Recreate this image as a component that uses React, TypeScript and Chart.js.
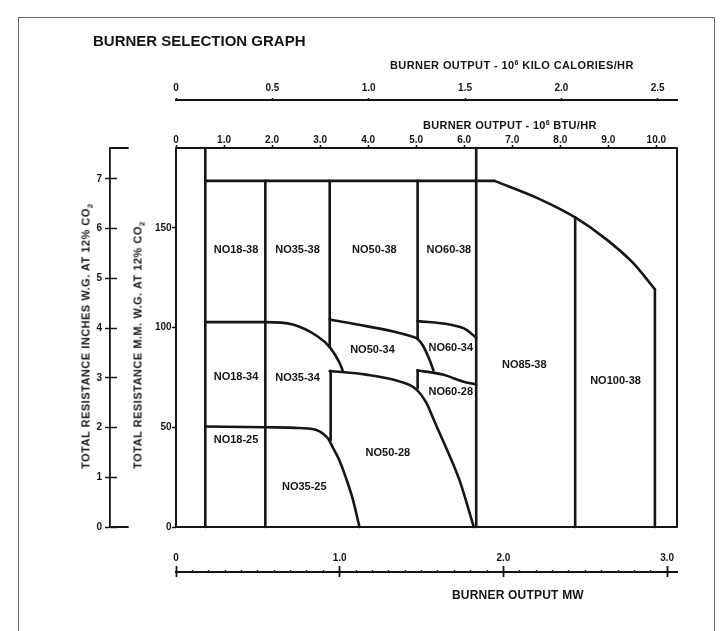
import React, { useEffect, useRef } from 'react';
import { Chart, registerables } from 'chart.js';

Chart.register(...registerables);

const FONT = '"Liberation Sans", Arial, Helvetica, sans-serif';
const INK = '#151515';

// ---- axis ranges ----
const btuRange = [0, 10.43];
const mmRange = [0, 190];
const kcalRange = [0, 2.6];
const mwRange = [0, 3.06];
const inchRange = [0, 7.62];

// ---- tick values and labels ----
const btuTicks = [0, 1, 2, 3, 4, 5, 6, 7, 8, 9, 10];
const btuLabels = ['0', '1.0', '2.0', '3.0', '4.0', '5.0', '6.0', '7.0', '8.0', '9.0', '10.0'];
const kcalTicks = [0, 0.5, 1, 1.5, 2, 2.5];
const kcalLabels = ['0', '0.5', '1.0', '1.5', '2.0', '2.5'];
const mmTicks = [0, 50, 100, 150];
const mmLabels = ['0', '50', '100', '150'];
const inchTicks = [0, 1, 2, 3, 4, 5, 6, 7];
const inchLabels = ['0', '1', '2', '3', '4', '5', '6', '7'];
const mwMajorTicks = [0, 1, 2, 3];
const mwMajorLabels = ['0', '1.0', '2.0', '3.0'];
const mwMinorTicks = [0, 0.1, 0.2, 0.3, 0.4, 0.5, 0.6, 0.7, 0.8, 0.9, 1, 1.1, 1.2, 1.3, 1.4, 1.5, 1.6, 1.7, 1.8, 1.9, 2, 2.1, 2.2, 2.3, 2.4, 2.5, 2.6, 2.7, 2.8, 2.9, 3];

// ---- where the secondary axes cross (in units of the other axis) ----
const kcalAxisAtMm = 214.1;
const mwAxisAtMm = -22.56;
const inchAxisAtBtu = -1.374;
const inchLabelsAtBtu = -1.54;
const mmLabelsAtBtu = -0.09;

// ---- boundary lines (x: 10^6 BTU/hr, y: mm W.G.) ----
const frameX = [0, 10.43, 10.43, 0, 0];
const frameY = [0, 0, 190, 190, 0];
const div18X = [0.61, 0.61];
const div18Y = [0, 190];
const topLineX = [0.61, 6.63];
const topLineY = [173.5, 173.5];
const envelopeX = [6.63, 7.57, 8.31, 8.96, 9.51, 9.97];
const envelopeY = [173.5, 164.4, 155.2, 144.2, 132.5, 119.2];
const div100X = [9.97, 9.97];
const div100Y = [119.2, 0];
const div85X = [8.31, 8.31];
const div85Y = [155.2, 0];
const div60X = [6.25, 6.25];
const div60Y = [0, 190];
const div35X = [1.86, 1.86];
const div35Y = [0, 173.5];
const div50UpperX = [3.2, 3.2];
const div50UpperY = [173.5, 90.2];
const div50LowerX = [3.22, 3.22];
const div50LowerY = [78.2, 43.5];
const div60UpperX = [5.03, 5.03];
const div60UpperY = [173.5, 94.3];
const div60LowerX = [5.03, 5.03];
const div60LowerY = [78.5, 69.5];
const curve34X = [0.61, 1.86, 2.43, 2.95, 3.2, 3.41, 3.47];
const curve34Y = [102.7, 102.7, 101.5, 95.5, 90.2, 82.1, 78.4];
const curve50_28X = [3.2, 3.96, 4.65, 5.0, 5.21, 5.38, 5.55, 5.9, 6.2];
const curve50_28Y = [78.2, 76.4, 73.0, 69.0, 62.3, 53, 43.7, 23.6, 0];
const curve50_34X = [3.2, 3.96, 4.65, 4.88, 5.03, 5.14, 5.27, 5.36];
const curve50_34Y = [104, 100.7, 97.3, 95.7, 94.3, 91.0, 84.3, 78.5];
const curve60_34X = [5.03, 5.69, 6.04, 6.25];
const curve60_34Y = [103.2, 101.5, 99, 94.8];
const curve60_28X = [5.03, 5.55, 5.97, 6.25];
const curve60_28Y = [78.5, 76.4, 73, 71.4];
const curve25X = [0.61, 1.86, 2.57, 2.91, 3.06, 3.17, 3.27, 3.4, 3.54, 3.68, 3.82];
const curve25Y = [50.4, 50, 49.6, 48.7, 46.8, 44.2, 39.6, 33.5, 24.5, 14, 0];

// inch-axis end serifs (x in BTU units, y in inches)
const serifX = [-1.374, -0.999];
const serifBottomY = [0, 0];
const serifTopY = [7.62, 7.62];

// ---- region names ----
const regionNames = ['NO18-38', 'NO35-38', 'NO50-38', 'NO60-38', 'NO18-34', 'NO35-34', 'NO50-34', 'NO60-34', 'NO60-28', 'NO85-38', 'NO100-38', 'NO18-25', 'NO35-25', 'NO50-28'];
const regionBtu = [1.25, 2.53, 4.13, 5.68, 1.25, 2.53, 4.09, 5.72, 5.72, 7.25, 9.15, 1.25, 2.67, 4.41];
const regionMm = [139, 139, 139, 139, 75.2, 74.7, 88.9, 89.8, 67.7, 81.4, 73, 43.7, 20.3, 37];

const line = (xs: number[], ys: number[], width = 2.6, smooth = false, yAxisID = 'y') => ({
  data: xs.map((x, i) => ({ x, y: ys[i] })),
  showLine: true,
  borderColor: INK,
  backgroundColor: INK,
  borderWidth: width,
  pointRadius: 0,
  pointHoverRadius: 0,
  tension: smooth ? 0.4 : 0,
  cubicInterpolationMode: smooth ? 'monotone' : 'default',
  clip: false,
  fill: false,
  xAxisID: 'x',
  yAxisID,
  borderCapStyle: 'round',
  borderJoinStyle: 'round',
});

const tickFont = { family: FONT, size: 10, weight: 'bold' as const };

const setTicks = (vals: number[]) => (s: any) => {
  s.ticks = vals.map((v) => ({ value: v }));
};

const baseTicks = { autoSkip: false, maxRotation: 0, minRotation: 0, font: tickFont, color: INK };

const regionLabelPlugin = {
  id: 'regionLabels',
  afterDatasetsDraw(chart: any) {
    const { ctx } = chart;
    const xs = chart.scales.x;
    const ys = chart.scales.y;
    ctx.save();
    ctx.font = `bold 11px ${FONT}`;
    ctx.fillStyle = INK;
    ctx.textAlign = 'center';
    ctx.textBaseline = 'middle';
    regionNames.forEach((name, i) => {
      ctx.fillText(name, xs.getPixelForValue(regionBtu[i]), ys.getPixelForValue(regionMm[i]));
    });
    ctx.restore();
  },
};

export default function App() {
  const ref = useRef<HTMLCanvasElement>(null);

  useEffect(() => {
    const datasets: any[] = [
      line(frameX, frameY, 2),
      line(div18X, div18Y),
      line(topLineX, topLineY),
      line(envelopeX, envelopeY, 2.6, true),
      line(div100X, div100Y),
      line(div85X, div85Y),
      line(div60X, div60Y),
      line(div35X, div35Y),
      line(div50UpperX, div50UpperY),
      line(div50LowerX, div50LowerY),
      line(div60UpperX, div60UpperY),
      line(div60LowerX, div60LowerY),
      line(curve34X, curve34Y, 2.6, true),
      line(curve50_28X, curve50_28Y, 2.6, true),
      line(curve50_34X, curve50_34Y, 2.6, true),
      line(curve60_34X, curve60_34Y, 2.6, true),
      line(curve60_28X, curve60_28Y, 2.6, true),
      line(curve25X, curve25Y, 2.6, true),
      line(serifX, serifBottomY, 1.8, false, 'yi'),
      line(serifX, serifTopY, 1.8, false, 'yi'),
    ];

    const chart = new Chart(ref.current as HTMLCanvasElement, {
      type: 'scatter',
      data: { datasets },
      plugins: [regionLabelPlugin],
      options: {
        responsive: false,
        animation: false,
        devicePixelRatio: 1,
        events: [],
        layout: { padding: { left: 176, right: 46, top: 148, bottom: 104 } },
        plugins: { legend: { display: false }, tooltip: { enabled: false }, title: { display: false } },
        scales: {
          x: {
            type: 'linear', axis: 'x', position: { y: mmRange[1] }, min: btuRange[0], max: btuRange[1],
            afterBuildTicks: setTicks(btuTicks),
            border: { display: false },
            grid: { display: true, drawOnChartArea: false, drawTicks: true, tickLength: -3, tickColor: INK, tickWidth: 1.5 },
            ticks: { ...baseTicks, padding: -11, callback: (_v: any, i: number) => btuLabels[i] },
          },
          y: {
            type: 'linear', axis: 'y', position: { x: btuRange[0] }, min: mmRange[0], max: mmRange[1],
            afterBuildTicks: setTicks(mmTicks),
            border: { display: false },
            grid: { display: true, drawOnChartArea: false, drawTicks: true, tickLength: 4, tickColor: INK, tickWidth: 1.5 },
            ticks: { ...baseTicks, display: false },
          },
          yl: {
            type: 'linear', axis: 'y', position: { x: mmLabelsAtBtu }, min: mmRange[0], max: mmRange[1],
            afterBuildTicks: setTicks(mmTicks),
            border: { display: false },
            grid: { display: false },
            ticks: { ...baseTicks, callback: (_v: any, i: number) => mmLabels[i] },
          },
          xk: {
            type: 'linear', axis: 'x', position: { y: kcalAxisAtMm }, min: kcalRange[0], max: kcalRange[1],
            afterBuildTicks: setTicks(kcalTicks),
            border: { display: true, color: INK, width: 2 },
            grid: { display: true, drawOnChartArea: false, drawTicks: true, tickLength: -3, tickColor: INK, tickWidth: 1.5 },
            ticks: { ...baseTicks, padding: -15, callback: (_v: any, i: number) => kcalLabels[i] },
          },
          xm: {
            type: 'linear', axis: 'x', position: { y: mwAxisAtMm }, min: mwRange[0], max: mwRange[1],
            afterBuildTicks: setTicks(mwMinorTicks),
            border: { display: true, color: INK, width: 2 },
            grid: { display: true, drawOnChartArea: false, drawTicks: true, tickLength: -3, tickColor: INK, tickWidth: 1.3 },
            ticks: {
              ...baseTicks, padding: -17,
              callback: (v: any) => {
                const k = mwMajorTicks.indexOf(Number(v));
                return k >= 0 ? mwMajorLabels[k] : '';
              },
            },
          },
          xm2: {
            type: 'linear', axis: 'x', position: { y: mwAxisAtMm }, min: mwRange[0], max: mwRange[1],
            afterBuildTicks: setTicks(mwMajorTicks),
            border: { display: false },
            grid: { display: true, drawOnChartArea: false, drawTicks: true, tickLength: 5, tickColor: INK, tickWidth: 1.8 },
            ticks: { ...baseTicks, display: false },
          },
          xm3: {
            type: 'linear', axis: 'x', position: { y: mwAxisAtMm }, min: mwRange[0], max: mwRange[1],
            afterBuildTicks: setTicks(mwMajorTicks),
            border: { display: false },
            grid: { display: true, drawOnChartArea: false, drawTicks: true, tickLength: -6, tickColor: INK, tickWidth: 1.8 },
            ticks: { ...baseTicks, display: false },
          },
          yi: {
            type: 'linear', axis: 'y', position: { x: inchAxisAtBtu }, min: inchRange[0], max: inchRange[1],
            afterBuildTicks: setTicks(inchTicks),
            border: { display: true, color: INK, width: 1.8 },
            grid: { display: true, drawOnChartArea: false, drawTicks: true, tickLength: 4, tickColor: INK, tickWidth: 1.5 },
            ticks: { ...baseTicks, display: false },
          },
          yi2: {
            type: 'linear', axis: 'y', position: { x: inchAxisAtBtu }, min: inchRange[0], max: inchRange[1],
            afterBuildTicks: setTicks(inchTicks),
            border: { display: false },
            grid: { display: true, drawOnChartArea: false, drawTicks: true, tickLength: -7, tickColor: INK, tickWidth: 1.5 },
            ticks: { ...baseTicks, display: false },
          },
          yil: {
            type: 'linear', axis: 'y', position: { x: inchLabelsAtBtu }, min: inchRange[0], max: inchRange[1],
            afterBuildTicks: setTicks(inchTicks),
            border: { display: false },
            grid: { display: false },
            ticks: { ...baseTicks, callback: (_v: any, i: number) => inchLabels[i] },
          },
        },
      } as any,
    });
    return () => chart.destroy();
  }, []);

  const txt = (extra: React.CSSProperties): React.CSSProperties => ({
    position: 'absolute', whiteSpace: 'nowrap', fontWeight: 700, lineHeight: 1, color: INK, ...extra,
  });
  const sup = <span style={{ fontSize: 7, position: 'relative', top: -4 }}>6</span>;
  const sub = <span style={{ fontSize: 8, position: 'relative', top: 3 }}>2</span>;

  return (
    <div style={{ position: 'absolute', left: 0, top: 0, width: 723, height: 631, overflow: 'hidden', background: '#fff', fontFamily: FONT }}>
      <div style={{ position: 'absolute', left: 18, top: 17, width: 695, height: 700, border: '1px solid #666' }} />
      <canvas ref={ref} width={723} height={631} style={{ position: 'absolute', left: 0, top: 0, width: 723, height: 631 }} />
      <div style={txt({ left: 93, top: 32.5, fontSize: 15 })}>BURNER SELECTION GRAPH</div>
      <div style={txt({ left: 390, top: 59.5, fontSize: 11, letterSpacing: 0.4 })}>BURNER OUTPUT - 10{sup} KILO CALORIES/HR</div>
      <div style={txt({ left: 423, top: 119.5, fontSize: 11, letterSpacing: 0.3 })}>BURNER OUTPUT - 10{sup} BTU/HR</div>
      <div style={txt({ left: 452, top: 589, fontSize: 12, letterSpacing: 0.2 })}>BURNER OUTPUT MW</div>
      <div style={txt({ left: 86, top: 336, fontSize: 11, letterSpacing: 0.5, transform: 'translate(-50%,-50%) rotate(-90deg)' })}>
        TOTAL RESISTANCE INCHES W.G. AT 12% CO{sub}
      </div>
      <div style={txt({ left: 138, top: 345, fontSize: 11, letterSpacing: 0.5, transform: 'translate(-50%,-50%) rotate(-90deg)' })}>
        TOTAL RESISTANCE M.M. W.G. AT 12% CO{sub}
      </div>
    </div>
  );
}
